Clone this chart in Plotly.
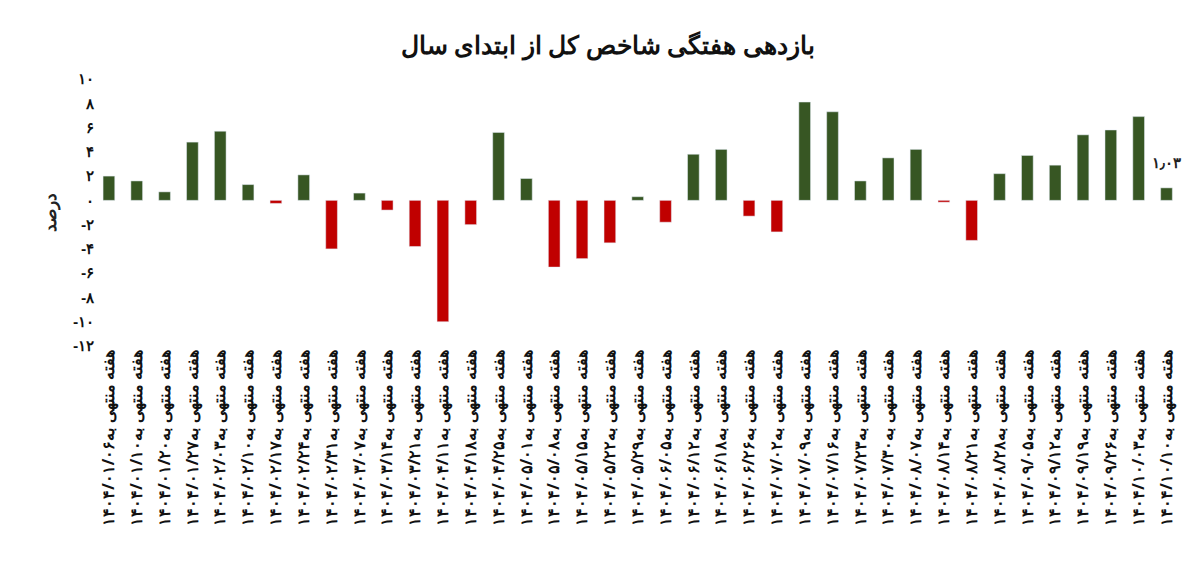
import plotly.graph_objects as go

FA = str.maketrans("0123456789", "۰۱۲۳۴۵۶۷۸۹")

DATES = [
    "1404/01/06", "1404/01/10", "1404/01/20", "1404/01/27", "1404/02/03",
    "1404/02/10", "1404/02/17", "1404/02/24", "1404/02/31", "1404/03/07",
    "1404/03/14", "1404/03/21", "1404/04/11", "1404/04/18", "1404/04/25",
    "1404/05/01", "1404/05/08", "1404/05/15", "1404/05/22", "1404/05/29",
    "1404/06/05", "1404/06/12", "1404/06/18", "1404/06/26", "1404/07/02",
    "1404/07/09", "1404/07/16", "1404/07/23", "1404/07/30", "1404/08/07",
    "1404/08/14", "1404/08/21", "1404/08/28", "1404/09/05", "1404/09/12",
    "1404/09/19", "1404/09/26", "1404/10/03", "1404/10/10",
]
RETURNS = [
    2.0, 1.6, 0.7, 4.8, 5.7, 1.3, -0.25, 2.1, -4.0, 0.6,
    -0.8, -3.8, -10.0, -2.0, 5.6, 1.8, -5.5, -4.8, -3.5, 0.3,
    -1.8, 3.8, 4.2, -1.3, -2.6, 8.1, 7.3, 1.6, 3.5, 4.2,
    -0.15, -3.3, 2.2, 3.7, 2.9, 5.4, 5.8, 6.9, 1.03,
]
Y_TICKS = [10, 8, 6, 4, 2, 0, -2, -4, -6, -8, -10, -12]

GREEN = "#375623"
RED = "#C00000"

labels = ["هفته منتهی به" + d.translate(FA) for d in DATES]
colors = [GREEN if v >= 0 else RED for v in RETURNS]
last_label = f"{RETURNS[-1]:.2f}".replace(".", "٫").translate(FA)

fig = go.Figure(go.Bar(
    x=labels, y=RETURNS,
    marker=dict(color=colors),
    width=0.42,
    hoverinfo="x+y",
))

fig.add_annotation(x=labels[-1], y=RETURNS[-1], text="<b>" + last_label + "</b>",
                   showarrow=False, yanchor="bottom", yshift=14,
                   font=dict(size=15, color="#222"))

fig.update_layout(
    title=dict(text="<b>بازدهی هفتگی شاخص کل از ابتدای سال</b>", x=0.5, y=0.95,
               xanchor="center", font=dict(size=25, color="#111", family="Noto Sans")),
    width=1200, height=565,
    plot_bgcolor="white", paper_bgcolor="white",
    margin=dict(l=87, r=25, t=71, b=227),
    showlegend=False,
    font=dict(family="Noto Sans", color="#222"),
    xaxis=dict(tickangle=-90, tickmode="array", tickvals=labels,
               ticktext=["<b>" + l + "</b>" for l in labels],
               tickfont=dict(size=16, color="#111"), showgrid=False,
               showline=False, ticks=""),
    yaxis=dict(range=[-12, 10], tickvals=Y_TICKS,
               ticktext=["<b>" + (str(abs(t)) if t >= 0 else "-" + str(abs(t))).translate(FA) + "</b>" for t in Y_TICKS],
               showgrid=False, zeroline=False, showline=False,
               tickfont=dict(size=15, color="#111"),
               title=dict(text="<b>درصد</b>", font=dict(size=17), standoff=12)),
)

fig.write_html("out.html")
